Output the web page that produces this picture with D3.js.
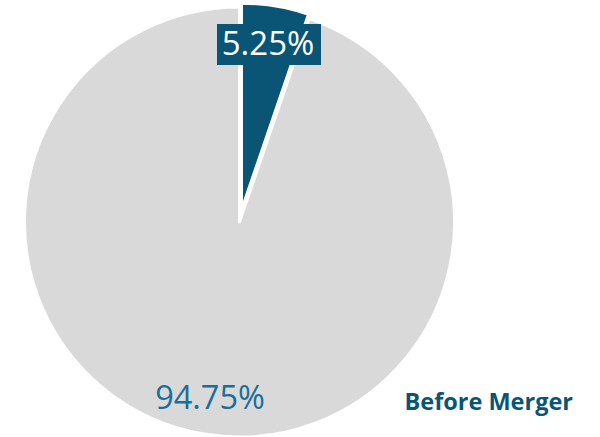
<!DOCTYPE html>
<html><head><meta charset="utf-8">
<script src="https://cdn.jsdelivr.net/npm/d3@7"></script>
<style>html,body{margin:0;padding:0;background:#fff;overflow:hidden}</style>
</head><body><svg id="c" width="600" height="437"></svg>
<script>
const categories = ["Merged", "Other"];
const values = [5.25, 94.75];
const labels = ["5.25%", "94.75%"];
const colors = ["#0a5576", "#d9d9d9"];
const title = "Before Merger";

const svg = d3.select("#c");
const cx = 239.5, cy = 222, r = 215;
const pie = d3.pie().sort(null).value(d => d)(values);
const g = svg.append("g").attr("transform", `translate(${cx},${cy})`);

const arcs = [d3.arc().innerRadius(0).outerRadius(207), d3.arc().innerRadius(0).outerRadius(r)];
const explode = [12, 0];

g.selectAll("path").data(pie).join("path")
  .attr("d", (d, i) => arcs[i](d))
  .attr("transform", (d, i) => {
    const a = (d.startAngle + d.endAngle) / 2;
    return `translate(${explode[i] * Math.sin(a)},${-explode[i] * Math.cos(a)})`;
  })
  .attr("fill", (d, i) => colors[i])
  .attr("stroke", "#fff").attr("stroke-width", 3).attr("stroke-linejoin", "round");

// label for small slice: boxed
const lb = svg.append("g");
lb.append("rect").attr("x", 217).attr("y", 24).attr("width", 104).attr("height", 41).attr("fill", colors[0]);
lb.append("text").attr("x", 268).attr("y", 55).attr("text-anchor", "middle")
  .attr("font-family", "Open Sans, sans-serif").attr("font-size", 33).attr("fill", "#fff").text(labels[0]);

svg.append("text").attr("x", 210).attr("y", 409).attr("text-anchor", "middle")
  .attr("font-family", "Open Sans, sans-serif").attr("font-size", 32.5).attr("fill", "#1a6e99").text(labels[1]);

svg.append("text").attr("x", 573).attr("y", 410).attr("text-anchor", "end")
  .attr("font-family", "Open Sans, sans-serif").attr("font-weight", "bold").attr("font-size", 23.5)
  .attr("fill", colors[0]).text(title);
</script></body></html>
